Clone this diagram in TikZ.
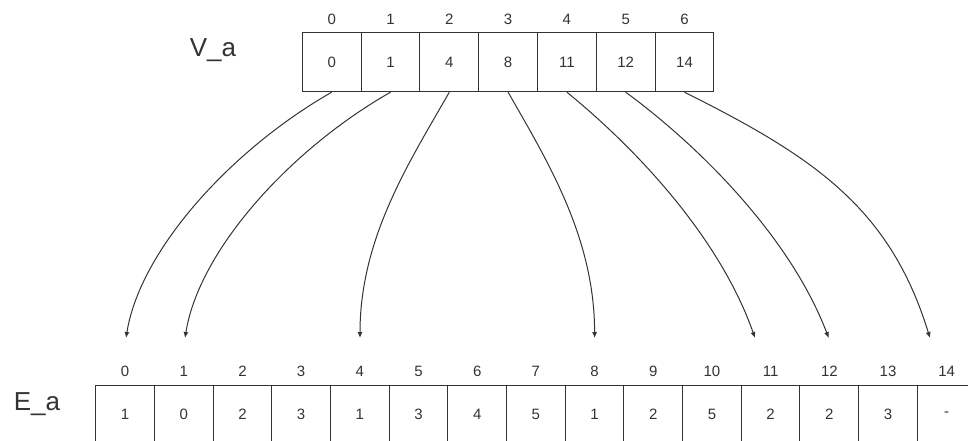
\documentclass[tikz,border=0pt]{standalone}
\usepackage{fontspec}
\setmainfont{Liberation Sans}
\usetikzlibrary{arrows.meta}
\definecolor{ink}{HTML}{333333}
\tikzset{
  cell/.style={draw=ink, line width=1pt, rectangle, minimum width=58.8pt, minimum height=58.7pt, inner sep=0pt, text=ink, font=\fontsize{15}{15}\selectfont},
  ecell/.style={cell, minimum width=58.69pt},
  idx/.style={inner sep=0pt, text=ink, font=\fontsize{15}{15}\selectfont},
  big/.style={inner sep=0pt, text=ink, font=\fontsize{26}{26}\selectfont, anchor=base},
  arr/.style={draw=ink, line width=1pt, -{Latex[length=6pt,width=5pt]}}
}
\begin{document}
\begin{tikzpicture}[x=1pt,y=-1pt]
\useasboundingbox (0,0) rectangle (968,441);
% V_a array
\foreach \v [count=\i from 0] in {0,1,4,8,11,12,14} {
  \node[cell] (va\i) at ({331.7+58.8*\i},62.35) {\v};
  \node[idx] (vi\i) at ({331.7+58.8*\i},19) {\i};
}
% E_a array
\foreach \v [count=\k from 0] in {1,0,2,3,1,3,4,5,1,2,5,2,2,3,-} {
  \node[ecell] (ea\k) at ({125.05+58.69*\k},414.35) {\v};
  \node[idx] (ei\k) at ({125.05+58.69*\k},371) {\k};
}
\node[big] (vlabel) at (213,56.7) {V\_a};
\node[big] (elabel) at (37,410) {E\_a};
% arrow targets
\coordinate (t0) at (126,338);
\coordinate (t1) at (185,338);
\coordinate (t2) at (360,338);
\coordinate (t3) at (594.6,338);
\coordinate (t4) at (755,338);
\coordinate (t5) at (828.7,338);
\coordinate (t6) at (930,338);
\draw[arr] (va0.south) .. controls +(-100,57) and +(14,-88) .. (t0);
\draw[arr] (va1.south) .. controls +(-100,57) and +(14,-88) .. (t1);
\draw[arr] (va2.south) .. controls +(-40,70) and +(0,-100) .. (t2);
\draw[arr] (va3.south) .. controls +(40,70) and +(0,-100) .. (t3);
\draw[arr] (va4.south) .. controls +(70,57) and +(-35,-100) .. (t4);
\draw[arr] (va5.south) .. controls +(75,55) and +(-38,-100) .. (t5);
\draw[arr] (va6.south) .. controls +(130,65) and +(-40,-130) .. (t6);
\end{tikzpicture}
\end{document}
